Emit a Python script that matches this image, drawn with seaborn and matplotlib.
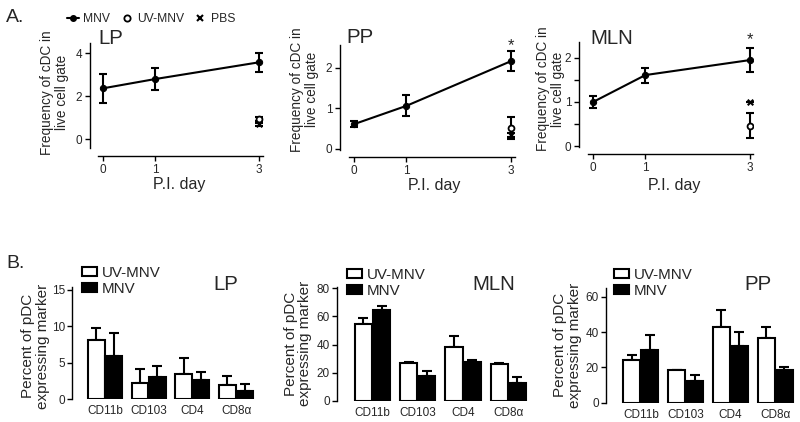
import matplotlib
matplotlib.use('Agg')
import matplotlib.pyplot as plt
import seaborn as sns
import pandas as pd
from matplotlib.lines import Line2D
from matplotlib.patches import Patch

sns.set_theme(style='ticks')
plt.rcParams['font.family'] = ['Liberation Sans', 'DejaVu Sans']

# ---------------- Data: panel A ----------------
days = [0, 1, 3]
day3 = [3]
lp_mnv = [2.36, 2.79, 3.57]
lp_mnv_err = [0.69, 0.53, 0.45]
lp_uv = [0.93]
lp_uv_err = [0.08]
lp_pbs = [0.68]
lp_pbs_err = [0.08]

pp_mnv = [0.61, 1.06, 2.16]
pp_mnv_err = [0.07, 0.26, 0.25]
pp_uv = [0.52]
pp_uv_err = [0.27]
pp_pbs = [0.35]
pp_pbs_err = [0.05]

mln_mnv = [1.0, 1.61, 1.95]
mln_mnv_err = [0.14, 0.17, 0.27]
mln_uv = [0.46]
mln_uv_err = [0.28]
mln_pbs = [1.0]
mln_pbs_err = [0.0]

# ---------------- Data: panel B ----------------
cd_markers = ['CD11b', 'CD103', 'CD4', 'CD8α']
groups = ['UV-MNV', 'MNV']

lpb_uv = [8.1, 2.2, 3.45, 1.95]
lpb_uv_err = [1.6, 1.9, 2.15, 1.15]
lpb_mnv = [5.9, 3.05, 2.6, 1.05]
lpb_mnv_err = [3.2, 1.55, 1.1, 1.0]

mlnb_uv = [54.9, 27.1, 38.4, 26.4]
mlnb_uv_err = [4.3, 0.5, 7.4, 0.3]
mlnb_mnv = [64.7, 17.3, 27.6, 12.5]
mlnb_mnv_err = [2.9, 3.8, 1.7, 4.3]

ppb_uv = [24.3, 18.6, 42.9, 36.6]
ppb_uv_err = [2.6, 0.0, 9.9, 6.3]
ppb_mnv = [30.0, 12.3, 32.4, 18.6]
ppb_mnv_err = [8.5, 3.4, 7.4, 1.9]

W, H = 800, 422
fig = plt.figure(figsize=(8, 4.22), dpi=100)


def px_axes(left, top, right, bottom):
    return fig.add_axes([left / W, 1 - bottom / H, (right - left) / W, (bottom - top) / H])


TICK = 8.5


def panel_a(ax, mnv, mnv_err, uv, uv_err, pbs, pbs_err, xlim, ylim, ybounds,
            yticks, yminor, lab_x, lab_y, xl_x, xl_y, star=None):
    sns.lineplot(x=days, y=mnv, ax=ax, color='black', lw=1.5, marker='o',
                 markersize=4.5, markeredgecolor='black', errorbar=None, zorder=3)
    ax.errorbar(days, mnv, yerr=mnv_err, fmt='none', ecolor='black',
                elinewidth=1.5, capsize=2.8, capthick=1.5, zorder=3)
    ax.errorbar(day3, pbs, yerr=pbs_err, fmt='none', ecolor='black',
                elinewidth=1.5, capsize=2.8, capthick=1.5, zorder=2)
    sns.scatterplot(x=day3, y=pbs, ax=ax, marker='x', color='black', s=16,
                    linewidth=1.5, zorder=4)
    ax.errorbar(day3, uv, yerr=uv_err, fmt='none', ecolor='black',
                elinewidth=1.5, capsize=2.8, capthick=1.5, zorder=3)
    sns.scatterplot(x=day3, y=uv, ax=ax, marker='o', facecolor='white',
                    edgecolor='black', s=18, linewidth=1.3, zorder=5)
    ax.set_xlim(*xlim)
    ax.set_ylim(*ylim)
    ax.set_xticks(days)
    ax.set_yticks(yticks)
    if yminor:
        ax.set_yticks(yminor, minor=True)
        ax.tick_params(axis='y', which='minor', length=3.5, width=1, color='black')
    for s in ['top', 'right']:
        ax.spines[s].set_visible(False)
    ax.spines['left'].set_bounds(*ybounds)
    ax.spines['bottom'].set_bounds(-0.1, xlim[1])
    for s in ['left', 'bottom']:
        ax.spines[s].set_linewidth(1.0)
        ax.spines[s].set_color('black')
    ax.tick_params(axis='both', which='major', labelsize=TICK, length=3.5,
                   width=1, color='black', pad=2)
    ax.set_ylabel('Frequency of cDC in\nlive cell gate', fontsize=9.8, linespacing=1.1)
    ax.yaxis.set_label_coords(lab_x, lab_y)
    ax.set_xlabel('P.I. day', fontsize=11.5)
    ax.xaxis.set_label_coords(xl_x, xl_y)
    ax.patch.set_alpha(0)
    if star is not None:
        ax.text(3, star, '*', ha='center', va='center', fontsize=12, clip_on=False)


ax1 = px_axes(90, 43, 263, 156)
panel_a(ax1, lp_mnv, lp_mnv_err, lp_uv, lp_uv_err, lp_pbs, lp_pbs_err,
        (-0.25, 3.08), (-0.79, 4.47), (-0.42, 4.47), [0, 2, 4], None,
        -0.12, 0.56, 0.514, -0.19)
ax2 = px_axes(340, 45, 515, 157)
panel_a(ax2, pp_mnv, pp_mnv_err, pp_uv, pp_uv_err, pp_pbs, pp_pbs_err,
        (-0.27, 3.08), (-0.2, 2.56), (-0.02, 2.56), [0, 1, 2], None,
        -0.12, 0.6, 0.537, -0.19, star=2.55)
ax3 = px_axes(579, 42, 753, 154)
panel_a(ax3, mln_mnv, mln_mnv_err, mln_uv, mln_uv_err, mln_pbs, mln_pbs_err,
        (-0.27, 3.06), (-0.18, 2.36), (-0.02, 2.36), [0, 1, 2], [0.5, 1.5],
        -0.08, 0.58, 0.546, -0.21, star=2.42)

# panel A titles
fig.text(98 / W, 1 - 38.5 / H, 'LP', fontsize=14.7, ha='left', va='center')
fig.text(346 / W, 1 - 37.5 / H, 'PP', fontsize=14.7, ha='left', va='center')
fig.text(590 / W, 1 - 38.5 / H, 'MLN', fontsize=14.7, ha='left', va='center')
fig.text(6 / W, 1 - 17 / H, 'A.', fontsize=14, ha='left', va='center')
fig.text(6 / W, 1 - 264 / H, 'B.', fontsize=14, ha='left', va='center')

# panel A legend
hA = [Line2D([0], [0], color='black', lw=1.5, marker='o', markersize=4),
      Line2D([0], [0], color='none', marker='o', markerfacecolor='white',
             markeredgecolor='black', markeredgewidth=1.3, markersize=4.5),
      Line2D([0], [0], color='none', marker='x', markeredgecolor='black',
             markeredgewidth=1.5, markersize=4)]
fig.legend(hA, ['MNV', 'UV-MNV', 'PBS'], ncol=3, loc='center left',
           bbox_to_anchor=(67 / W, 1 - 19 / H), frameon=False, fontsize=8.7,
           handlelength=1.0, handletextpad=0.35, columnspacing=0.85,
           borderpad=0, borderaxespad=0)


def panel_b(ax, uv, uv_err, mnv, mnv_err, xlim, ylim, yticks, lab_x, lab_y,
            leg_xy, title_xy, title):
    df = pd.DataFrame({
        'marker': cd_markers * 2,
        'group': [groups[0]] * 4 + [groups[1]] * 4,
        'value': list(uv) + list(mnv),
    })
    sns.barplot(data=df, x='marker', y='value', hue='group', hue_order=groups,
                order=cd_markers, palette={'UV-MNV': 'white', 'MNV': 'black'},
                edgecolor='black', linewidth=1.5, width=0.8, gap=0.05,
                errorbar=None, legend=False, ax=ax, zorder=2)
    for cont, errs in zip(ax.containers, [uv_err, mnv_err]):
        xs = [p.get_x() + p.get_width() / 2 for p in cont]
        ys = [p.get_height() for p in cont]
        ax.errorbar(xs, ys, yerr=[[0] * len(errs), errs], fmt='none',
                    ecolor='black', elinewidth=1.5, capsize=3.3, capthick=1.5,
                    zorder=1)
    ax.set_xlim(*xlim)
    ax.set_ylim(*ylim)
    ax.set_yticks(yticks)
    for s in ['top', 'right', 'bottom']:
        ax.spines[s].set_visible(False)
    ax.spines['left'].set_linewidth(1.0)
    ax.spines['left'].set_color('black')
    ax.tick_params(axis='y', labelsize=TICK, length=3.5, width=1, color='black', pad=1.5)
    ax.tick_params(axis='x', labelsize=TICK, length=0, pad=4.5)
    ax.set_xlabel('')
    ax.set_ylabel('Percent of pDC\nexpressing marker', fontsize=11, linespacing=1.05)
    ax.yaxis.set_label_coords(lab_x, lab_y)
    ax.patch.set_alpha(0)
    hB = [Patch(facecolor='white', edgecolor='black', linewidth=1.5),
          Patch(facecolor='black', edgecolor='black', linewidth=1.5)]
    ax.legend(hB, groups, loc='upper left', bbox_to_anchor=(leg_xy[0] / W, 1 - leg_xy[1] / H),
              bbox_transform=fig.transFigure, frameon=False, fontsize=10.9,
              handlelength=1.0, handleheight=0.6, handletextpad=0.3,
              labelspacing=0.12, borderpad=0, borderaxespad=0)
    fig.text(title_xy[0] / W, 1 - title_xy[1] / H, title, fontsize=14.7,
             ha='center', va='center')


bx1 = px_axes(72, 287, 258, 399)
panel_b(bx1, lpb_uv, lpb_uv_err, lpb_mnv, lpb_mnv_err, (-0.755, 3.5), (0, 15.4),
        [0, 5, 10, 15], -0.12, 0.47, (82, 266), (226, 285), 'LP')
bx2 = px_axes(337, 287, 530, 400.7)
panel_b(bx2, mlnb_uv, mlnb_uv_err, mlnb_mnv, mlnb_mnv_err, (-0.785, 3.48), (0, 81),
        [0, 20, 40, 60, 80], -0.127, 0.5, (347, 268), (493.5, 284), 'MLN')
bx3 = px_axes(606, 288, 797, 402.7)
panel_b(bx3, ppb_uv, ppb_uv_err, ppb_mnv, ppb_mnv_err, (-0.78, 3.49), (0, 65),
        [0, 20, 40, 60], -0.126, 0.5, (614, 268), (758, 285), 'PP')

fig.savefig('out.png', dpi=100)
